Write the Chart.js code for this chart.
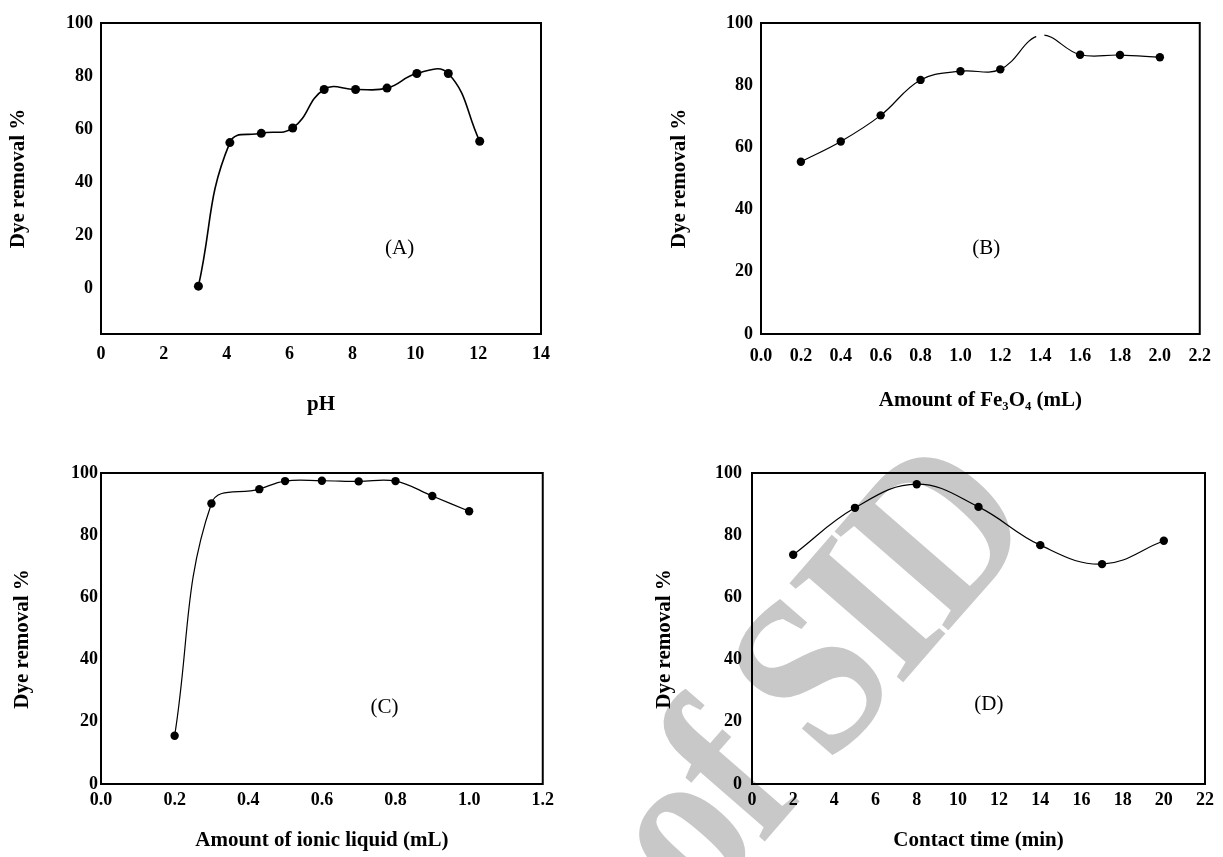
<!DOCTYPE html>
<html>
<head>
<meta charset="utf-8">
<script src="https://cdn.jsdelivr.net/npm/chart.js@4/dist/chart.umd.min.js"></script>
<style>
    html, body { margin: 0; padding: 0; background: #fff; overflow: hidden; }
    body { width: 1223px; height: 857px; position: relative; }
    .panel { position: absolute; z-index: 1; }
    .watermark {
        position: absolute; left: 810px; top: 672px; z-index: 0;
        transform: translate(-50%, -50%) rotate(-49deg) scaleY(1.15);
        font: bold 200px "Liberation Serif", "Times New Roman", serif;
        letter-spacing: -6px;
        color: #c8c8c8; line-height: 1; white-space: nowrap;
    }
</style>
</head>
<body>
<div class="watermark">of SID</div>
<div class="panel" style="left:0;top:0;width:560px;height:421px"><canvas id="chartA"></canvas></div>
<div class="panel" style="left:660px;top:0;width:563px;height:417px"><canvas id="chartB"></canvas></div>
<div class="panel" style="left:0;top:429px;width:560px;height:428px"><canvas id="chartC"></canvas></div>
<div class="panel" style="left:645px;top:429px;width:578px;height:428px"><canvas id="chartD"></canvas></div>
<script>
// 데이터
const yTicks = [0, 20, 40, 60, 80, 100];

const phX = [3.1, 4.1, 5.1, 6.1, 7.1, 8.1, 9.1, 10.05, 11.05, 12.05];
const phY = [1, 55, 58.5, 60.5, 75, 75, 75.5, 81, 81, 55.5];
const phTicks = [0, 2, 4, 6, 8, 10, 12, 14];

const feX = [0.2, 0.4, 0.6, 0.8, 1.0, 1.2, 1.4, 1.6, 1.8, 2.0];
const feY = [55.4, 61.9, 70.3, 81.7, 84.5, 85.1, 96, 89.8, 89.7, 89.0];
const feTicks = [0, 0.2, 0.4, 0.6, 0.8, 1.0, 1.2, 1.4, 1.6, 1.8, 2.0, 2.2];

const ionicX = [0.2, 0.3, 0.43, 0.5, 0.6, 0.7, 0.8, 0.9, 1.0];
const ionicY = [15.5, 90.2, 94.8, 97.4, 97.5, 97.3, 97.4, 92.6, 87.7];
const ionicTicks = [0, 0.2, 0.4, 0.6, 0.8, 1.0, 1.2];

const timeX = [2, 5, 8, 11, 14, 17, 20];
const timeY = [73.7, 88.8, 96.4, 89.1, 76.8, 70.7, 78.2];
const timeTicks = [0, 2, 4, 6, 8, 10, 12, 14, 16, 18, 20, 22];

Chart.defaults.font.family = '"Liberation Serif", "Times New Roman", serif';
Chart.defaults.color = '#000';

const tickFont = { size: 18, weight: 'bold' };
const titleFont = { size: 21, weight: 'bold' };

// 테두리 + (A)~(D) 라벨
const framePlugin = {
    id: 'frame',
    afterDraw(chart, args, opts) {
        const { ctx, chartArea: a, scales } = chart;
        ctx.save();
        ctx.strokeStyle = '#000';
        ctx.lineWidth = 2;
        ctx.strokeRect(a.left, a.top, a.width, a.height);
        ctx.fillStyle = '#000';
        ctx.font = '21px "Liberation Serif", "Times New Roman", serif';
        ctx.textAlign = 'center';
        ctx.textBaseline = 'middle';
        ctx.fillText(opts.text, scales.x.getPixelForValue(opts.at[0]), scales.y.getPixelForValue(opts.at[1]));
        ctx.restore();
    }
};

function makeChart(id, c) {
    return new Chart(document.getElementById(id), {
        type: 'line',
        data: {
            datasets: [{
                data: c.xs.map((x, i) => ({ x: x, y: c.ys[i] })),
                borderColor: '#000',
                borderWidth: c.lineWidth,
                pointRadius: c.pointRadius,
                pointBackgroundColor: c.pointColors || '#000',
                pointBorderColor: c.pointColors || '#000',
                pointBorderWidth: 0,
                tension: c.tension,
                fill: false
            }]
        },
        options: {
            responsive: true,
            maintainAspectRatio: false,
            animation: false,
            layout: { padding: c.padding },
            plugins: {
                legend: { display: false },
                tooltip: { enabled: false },
                frame: { text: c.label, at: c.labelAt }
            },
            scales: {
                x: {
                    type: 'linear',
                    min: c.xTicks[0],
                    max: c.xTicks[c.xTicks.length - 1],
                    grid: { display: false, drawTicks: false },
                    border: { display: false },
                    afterBuildTicks: s => { s.ticks = c.xTicks.map(v => ({ value: v })); },
                    afterFit: s => { s.height = c.xHeight; },
                    ticks: {
                        font: tickFont, padding: c.xPad, maxRotation: 0, autoSkip: false,
                        callback: v => c.decimals ? Number(v).toFixed(c.decimals) : v
                    },
                    title: { display: true, text: c.xTitle, font: titleFont, padding: { top: 0, bottom: 4 } }
                },
                y: {
                    type: 'linear',
                    min: c.yMin,
                    max: 100,
                    grid: { display: false, drawTicks: false },
                    border: { display: false },
                    afterBuildTicks: s => { s.ticks = yTicks.map(v => ({ value: v })); },
                    afterFit: s => { s.width = c.yWidth; },
                    ticks: { font: tickFont, padding: c.yPad },
                    // 아래 두 그래프는 제목이 조금 아래쪽에 있어 뒤에 공백을 붙임
                    title: { display: true, text: 'Dye removal %' + (c.yTitleTail || ''), font: titleFont, padding: { top: c.yTitlePad, bottom: 0 } }
                }
            }
        },
        plugins: [framePlugin]
    });
}

// (A) pH
makeChart('chartA', {
    xs: phX, ys: phY, xTicks: phTicks, yMin: -17,
    xTitle: 'pH', label: '(A)', labelAt: [9.5, 15],
    padding: { left: 0, top: 23, right: 14, bottom: 0 },
    yWidth: 101, xHeight: 87, xPad: 10, yPad: 8, yTitlePad: 6,
    lineWidth: 1.6, pointRadius: 4.5, tension: 0.45
});

// (B) Fe3O4 양 — 1.4 지점의 마커는 원본에서 지워져 있음
makeChart('chartB', {
    xs: feX, ys: feY, xTicks: feTicks, yMin: 0, decimals: 1,
    xTitle: 'Amount of Fe\u2083O\u2084 (mL)', label: '(B)', labelAt: [1.13, 27.4],
    padding: { left: 0, top: 23, right: 19, bottom: 0 },
    yWidth: 101, xHeight: 83, xPad: 12, yPad: 8, yTitlePad: 7,
    lineWidth: 1.2, pointRadius: 4.2, tension: 0.4,
    pointColors: feX.map(x => x === 1.4 ? '#fff' : '#000')
});

// (C) 이온성 액체 양
makeChart('chartC', {
    xs: ionicX, ys: ionicY, xTicks: ionicTicks, yMin: 0, decimals: 1,
    xTitle: 'Amount of ionic liquid (mL)', label: '(C)', labelAt: [0.77, 24.5],
    padding: { left: 0, top: 44, right: 14, bottom: 0 },
    yWidth: 101, xHeight: 73, xPad: 6, yPad: 3, yTitlePad: 10, yTitleTail: '\u00a0\u00a0\u00a0\u00a0',
    lineWidth: 1.2, pointRadius: 4.2, tension: 0.4
});

// (D) 접촉 시간
makeChart('chartD', {
    xs: timeX, ys: timeY, xTicks: timeTicks, yMin: 0,
    xTitle: 'Contact time (min)', label: '(D)', labelAt: [11.5, 25.7],
    padding: { left: 0, top: 44, right: 18, bottom: 0 },
    yWidth: 107, xHeight: 73, xPad: 6, yPad: 10, yTitlePad: 7, yTitleTail: '\u00a0\u00a0\u00a0\u00a0',
    lineWidth: 1.2, pointRadius: 4.2, tension: 0.4
});
</script>
</body>
</html>
